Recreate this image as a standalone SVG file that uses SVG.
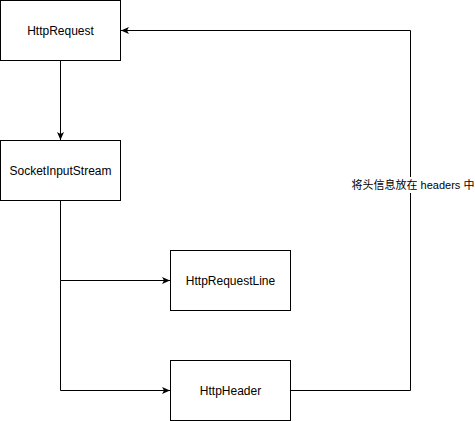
<svg xmlns="http://www.w3.org/2000/svg" width="475" height="421" viewBox="0 0 475 421">
<style>
.box{fill:#fff;stroke:#000;stroke-width:1}
.t{font-family:"Liberation Sans",Arial,sans-serif;font-size:12px;fill:#000;text-anchor:middle;dominant-baseline:central}
.e{fill:none;stroke:#000;stroke-width:1}
.lbl{font-family:"Liberation Sans","Noto Sans CJK SC",sans-serif;font-size:11px;fill:#000;text-anchor:middle;dominant-baseline:central}
</style>
<defs>
<marker id="a" markerUnits="userSpaceOnUse" markerWidth="9" markerHeight="8" refX="8" refY="3.5" orient="auto">
<path d="M0,0 L8,3.5 L0,7 L2,3.5 z" fill="#000"/>
</marker>
</defs>
<rect width="475" height="421" fill="#fff"/>
<g id="edges">
<path class="e" d="M60.5,60.5 V140" marker-end="url(#a)"/>
<path class="e" d="M60.5,200.5 V280.5 H170" marker-end="url(#a)"/>
<path class="e" d="M60.5,280.5 V390.5 H170" marker-end="url(#a)"/>
<path class="e" d="M290.5,390.5 H410.5 V30.5 H121" marker-end="url(#a)"/>
<rect x="351" y="177" width="124" height="16" fill="#fff"/>
<text class="lbl" x="413" y="185">将头信息放在 headers 中</text>
</g>
<g id="HttpRequest"><rect class="box" x="0.5" y="0.5" width="120" height="60"/><text class="t" x="60.5" y="30.5">HttpRequest</text></g>
<g id="SocketInputStream"><rect class="box" x="0.5" y="140.5" width="120" height="60"/><text class="t" x="60.5" y="170.5">SocketInputStream</text></g>
<g id="HttpRequestLine"><rect class="box" x="170.5" y="250.5" width="120" height="60"/><text class="t" x="230.5" y="280.5">HttpRequestLine</text></g>
<g id="HttpHeader"><rect class="box" x="170.5" y="360.5" width="120" height="60"/><text class="t" x="230.5" y="390.5">HttpHeader</text></g>
</svg>
